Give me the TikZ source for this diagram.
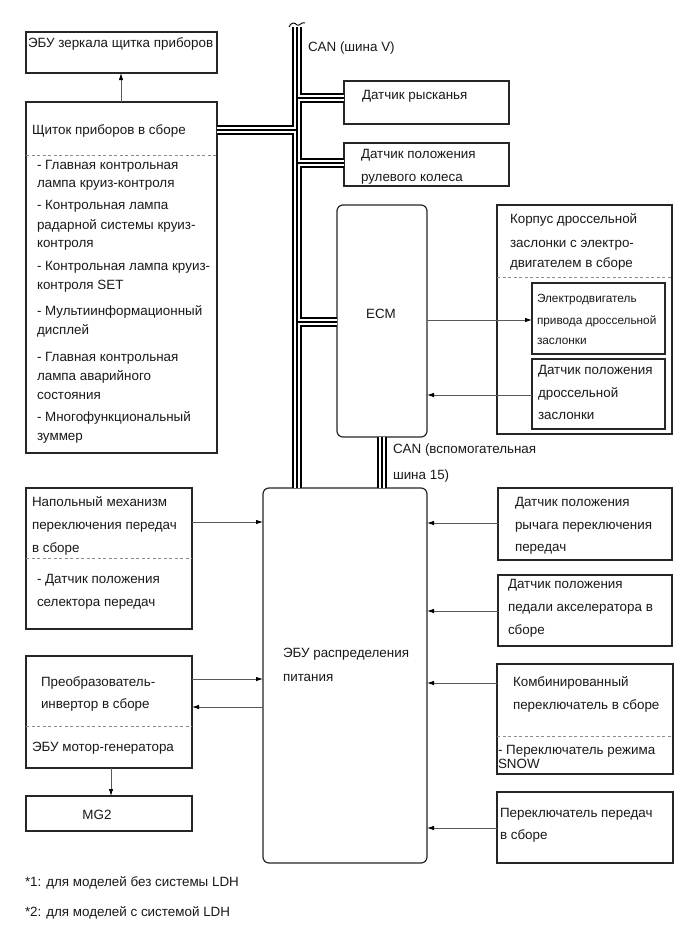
\documentclass[tikz,border=0pt]{standalone}
\usepackage{fontspec}
\setmainfont{Liberation Sans}
\usetikzlibrary{arrows.meta}
\newcommand\tline[4]{\node[#1] (#2) at (#3) {#4};}
\begin{document}
\begin{tikzpicture}[x=1pt,y=-1pt,
 box/.style={draw=black!85, line width=1.2pt, anchor=north west, inner sep=0pt, outer sep=0pt},
 rbox/.style={box, rounded corners=6pt},
 txt/.style={anchor=base west, inner sep=0pt, outer sep=0pt, font=\fontsize{13.4}{16}\selectfont, text=black!90},
 sml/.style={txt, font=\fontsize{11.8}{13}\selectfont},
 ctxt/.style={txt, anchor=base},
 arr/.style={draw=black!65, line width=0.8pt, -{Latex[length=7pt,width=4.5pt,color=black]}},
 sep/.style={draw=black!45, line width=0.8pt, dash pattern=on 3pt off 2.5pt},
]
\useasboundingbox[fill=white] (0,0) rectangle (689,951);

% boxes
\node[box, minimum width=191pt, minimum height=41pt] (mirror) at (26,32) {};
\node[box, minimum width=191pt, minimum height=351pt] (cluster) at (26,102) {};
\node[box, minimum width=165pt, minimum height=43pt] (yaw) at (344,81) {};
\node[box, minimum width=165pt, minimum height=43pt] (steer) at (344,143) {};
\node[rbox, minimum width=90pt, minimum height=232pt] (ecm) at (337,205) {};
\node[box, minimum width=175pt, minimum height=229pt] (throttle) at (497,205) {};
\node[box, minimum width=133pt, minimum height=71pt] (motor) at (532,283) {};
\node[box, minimum width=133pt, minimum height=70pt] (tps) at (532,359) {};
\node[box, minimum width=166pt, minimum height=141pt] (floor) at (26,488) {};
\node[box, minimum width=166pt, minimum height=112pt] (inv) at (26,656) {};
\node[box, minimum width=166pt, minimum height=35pt] (mg) at (26,796) {};
\node[rbox, minimum width=164pt, minimum height=375pt] (ecu) at (263,488) {};
\node[box, minimum width=174pt, minimum height=72pt] (lever) at (498,488) {};
\node[box, minimum width=174pt, minimum height=71pt] (accel) at (498,575) {};
\node[box, minimum width=176pt, minimum height=110pt] (comb) at (497,664) {};
\node[box, minimum width=176pt, minimum height=71pt] (gear) at (497,792) {};

% dashed separators
\draw[sep] (cluster.west |- 0,155) -- (cluster.east |- 0,155);
\draw[sep] (throttle.west |- 0,277) -- (throttle.east |- 0,277);
\draw[sep] (floor.west |- 0,558) -- (floor.east |- 0,558);
\draw[sep] (inv.west |- 0,726) -- (inv.east |- 0,726);
\draw[sep] (comb.west |- 0,736) -- (comb.east |- 0,736);

% CAN buses
\foreach \w/\c in {9.5/black, 6/white, 1.3/black}{
  \draw[line width=\w pt, draw=\c]
    (297,27) -- (297,0 |- ecu.north)
    (297,98) -- (yaw.west |- 0,98)
    (297,163) -- (steer.west |- 0,163)
    (297,130) -- (cluster.east |- 0,130)
    (297,322) -- (ecm.west |- 0,322)
    (382,0 |- ecm.south) -- (382,0 |- ecu.north);
}
\draw[line width=0.9pt] (289,27) .. controls (292,21) and (295,23) .. (297,25) .. controls (299,27) and (302,21) .. (305,23);

% arrows
\draw[arr] (121,0 |- cluster.north) -- (121,0 |- mirror.south);
\draw[arr] (ecm.east |- 0,320) -- (motor.west |- 0,320);
\draw[arr] (tps.west |- 0,395) -- (ecm.east |- 0,395);
\draw[arr] (floor.east |- 0,522) -- (ecu.west |- 0,522);
\draw[arr] (inv.east |- 0,679) -- (ecu.west |- 0,679);
\draw[arr] (ecu.west |- 0,707) -- (inv.east |- 0,707);
\draw[arr] (111,0 |- inv.south) -- (111,0 |- mg.north);
\draw[arr] (lever.west |- 0,523) -- (ecu.east |- 0,523);
\draw[arr] (accel.west |- 0,611) -- (ecu.east |- 0,611);
\draw[arr] (comb.west |- 0,683) -- (ecu.east |- 0,683);
\draw[arr] (gear.west |- 0,828) -- (ecu.east |- 0,828);

% texts
\tline{txt}{tmirror}{28,47}{ЭБУ зеркала щитка приборов}
\tline{txt}{tcl}{32,134}{Щиток приборов в сборе}
\tline{txt}{tc1}{37,169}{- Главная контрольная}
\tline{txt}{tc2}{37,187}{лампа круиз-контроля}
\tline{txt}{tc3}{37,209}{- Контрольная лампа}
\tline{txt}{tc4}{37,229}{радарной системы круиз-}
\tline{txt}{tc5}{37,247}{контроля}
\tline{txt}{tc6}{37,270}{- Контрольная лампа круиз-}
\tline{txt}{tc7}{37,289}{контроля SET}
\tline{txt}{tc8}{37,315}{- Мультиинформационный}
\tline{txt}{tc9}{37,334}{дисплей}
\tline{txt}{tc10}{37,361}{- Главная контрольная}
\tline{txt}{tc11}{37,380}{лампа аварийного}
\tline{txt}{tc12}{37,399}{состояния}
\tline{txt}{tc13}{37,421}{- Многофункциональный}
\tline{txt}{tc14}{37,440}{зуммер}

\tline{txt}{tcanv}{308,51}{CAN (шина V)}
\tline{txt}{tyaw}{362,99}{Датчик рысканья}
\tline{txt}{tst1}{361,158}{Датчик положения}
\tline{txt}{tst2}{361,181}{рулевого колеса}
\tline{ctxt}{tecm}{381,318}{ECM}
\tline{txt}{tth1}{510,223}{Корпус дроссельной}
\tline{txt}{tth2}{510,247}{заслонки с электро-}
\tline{txt}{tth3}{510,267}{двигателем в сборе}
\tline{sml}{tmo1}{537,302}{Электродвигатель}
\tline{sml}{tmo2}{537,324}{привода дроссельной}
\tline{sml}{tmo3}{537,344}{заслонки}
\tline{txt}{ttp1}{538,374}{Датчик положения}
\tline{txt}{ttp2}{538,397}{дроссельной}
\tline{txt}{ttp3}{538,419}{заслонки}
\tline{txt}{tcan1}{393,453}{CAN (вспомогательная}
\tline{txt}{tcan2}{393,479}{шина 15)}

\tline{txt}{tfl1}{32,506}{Напольный механизм}
\tline{txt}{tfl2}{32,529}{переключения передач}
\tline{txt}{tfl3}{32,552}{в сборе}
\tline{txt}{tfl4}{37,583}{- Датчик положения}
\tline{txt}{tfl5}{37,606}{селектора передач}

\tline{txt}{tlv1}{515,506}{Датчик положения}
\tline{txt}{tlv2}{515,529}{рычага переключения}
\tline{txt}{tlv3}{515,551}{передач}
\tline{txt}{tac1}{508,588}{Датчик положения}
\tline{txt}{tac2}{508,611}{педали акселератора в}
\tline{txt}{tac3}{508,634}{сборе}

\tline{txt}{tecu1}{283,657}{ЭБУ распределения}
\tline{txt}{tecu2}{283,681}{питания}

\tline{txt}{tin1}{41,686}{Преобразователь-}
\tline{txt}{tin2}{41,708}{инвертор в сборе}
\tline{txt}{tin3}{32,751}{ЭБУ мотор-генератора}
\tline{ctxt}{tmg}{97,819}{MG2}

\tline{txt}{tco1}{513,686}{Комбинированный}
\tline{txt}{tco2}{513,709}{переключатель в сборе}
\tline{txt}{tco3}{498,754}{- Переключатель режима}
\tline{txt}{tco4}{498,768}{SNOW}
\tline{txt}{tge1}{500,817}{Переключатель передач}
\tline{txt}{tge2}{500,839}{в сборе}

\tline{txt}{tfn1}{25,886}{*1: для моделей без системы LDH}
\tline{txt}{tfn2}{25,916}{*2: для моделей с системой LDH}
\end{tikzpicture}
\end{document}
